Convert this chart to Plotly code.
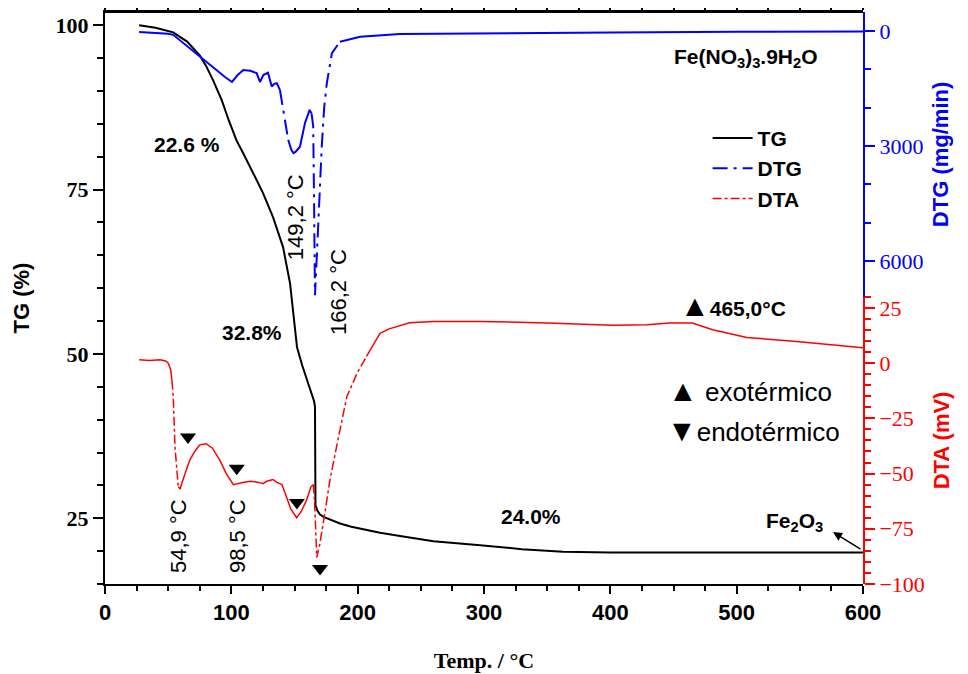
import plotly.graph_objects as go

# ---------------- data ----------------
T_tg = [27, 40, 54, 65, 75, 80, 85.6, 92.4, 98, 104, 110, 117, 125, 133, 141, 146.5, 150.4,
        152, 156, 160, 163, 165.5, 166.2, 166.3, 166.6, 168, 170, 173, 180, 186, 195, 207,
        217.7, 233.5, 260, 297, 330, 362.6, 400, 500, 600]
TG = [100, 99.6, 98.9, 97.5, 95.4, 93.8, 91.6, 88.6, 85.5, 82.5, 80.3, 77.5, 74.5, 70.8, 66.2,
      60.7, 53.6, 51, 48.3, 46, 44, 42.8, 42, 30, 27, 26.2, 25.6, 25.2, 24.6, 24.2, 23.7, 23.2,
      22.8, 22.3, 21.5, 20.9, 20.3, 19.9, 19.8, 19.8, 19.8]

T_dtg = [27, 40, 50, 54, 57, 62, 68, 75, 82, 88.5, 95, 100.5, 105, 109.5, 115, 120, 122.7, 125.3,
         129, 132, 134, 136, 138.5, 141, 143, 145, 147.5, 149.2, 151, 154.3, 158.3, 162, 163.5,
         164.8, 165.5, 166.2, 167.5, 168.8, 170, 171.6, 173.5, 175.6, 179.6, 186, 202, 233.5,
         300, 400, 500, 600]
DTG = [26, 40, 70, 100, 180, 320, 480, 680, 860, 1020, 1200, 1330, 1150, 1020, 1040, 1100, 1330,
       1150, 1090, 1450, 1380, 1360, 1540, 2060, 2450, 2840, 3100, 3190, 3150, 3020, 2400, 2060,
       2150, 2490, 4500, 6900, 6000, 5000, 4000, 3000, 2000, 1360, 580, 280, 150, 80, 60, 40, 20, 10]

T_dta = [27, 35, 43.5, 48, 50, 52, 53, 54, 55.4, 57, 58, 59.5, 61, 64, 67, 71, 75, 80, 85, 91, 96,
         101.6, 105, 109, 115, 122, 125, 128, 131, 133, 136, 140, 143.7, 147, 151.7, 155, 159.6,
         163, 165, 166.2, 167.6, 170, 174, 178, 185, 191.5, 200, 207, 212, 217.7, 225, 233.5, 241,
         260, 297, 350, 402, 429, 447, 465, 481, 508, 547.5, 600]
DTA = [1.5, 1.2, 1.5, 1, 0, -3, -8, -15, -38, -50, -56, -57, -54, -49, -44, -40, -37, -36.5, -38.5,
       -44, -50, -55, -54.5, -54, -53.5, -54, -54.6, -53.5, -53, -52.7, -54, -55, -60.6, -66, -70,
       -67.5, -62, -56, -55, -66.7, -88, -82, -68, -53, -33, -15, -4, 3, 8, 13.5, 15.5, 17, 18.3,
       18.8, 18.9, 18.2, 17.1, 17.4, 18.2, 18.2, 15.1, 11.6, 9.8, 7]

# endothermic marker positions (T, DTA)
T_endo = [65.7, 104.3, 151.9, 170.2]
DTA_endo = [-33.5, -47.6, -63.1, -93]

# steep (dashed-looking) parts of the derivative curves
DTG_steep = [(138.5, 145), (163.5, 186)]
DTA_steep = [(53, 58), (165, 207)]


def split(T, V, ranges):
    solid, dashed = [], []
    for t, v in zip(T, V):
        inside = any(lo < t < hi for lo, hi in ranges)
        closed = any(lo <= t <= hi for lo, hi in ranges)
        solid.append(None if inside else v)
        dashed.append(v if closed else None)
    return solid, dashed


dtg_solid, dtg_dash = split(T_dtg, DTG, DTG_steep)
dta_solid, dta_dash = split(T_dta, DTA, DTA_steep)

SANS = "Liberation Sans, Arial, sans-serif"
SERIF = "Liberation Serif, Times New Roman, serif"

fig = go.Figure()
fig.add_trace(go.Scatter(x=T_tg, y=TG, mode="lines", name="TG", yaxis="y",
                         line=dict(color="black", width=2), legendrank=1))
fig.add_trace(go.Scatter(x=T_dtg, y=dtg_solid, mode="lines", yaxis="y2", showlegend=False,
                         line=dict(color="#0000ff", width=2)))
fig.add_trace(go.Scatter(x=T_dtg, y=dtg_dash, mode="lines", name="DTG", yaxis="y2",
                         line=dict(color="#0000ff", width=2, dash="longdashdot"), legendrank=2))
fig.add_trace(go.Scatter(x=T_dta, y=dta_solid, mode="lines", yaxis="y3", showlegend=False,
                         line=dict(color="#ff0000", width=1.5)))
fig.add_trace(go.Scatter(x=T_dta, y=dta_dash, mode="lines", name="DTA", yaxis="y3",
                         line=dict(color="#ff0000", width=1.5, dash="dashdot"), legendrank=3))
fig.add_trace(go.Scatter(x=T_endo, y=DTA_endo, mode="markers", yaxis="y3", showlegend=False,
                         marker=dict(symbol="triangle-down", size=14, color="black")))

DOM = 0.502

fig.update_layout(
    width=968, height=674,
    margin=dict(l=97, r=113, t=4, b=98),
    plot_bgcolor="rgba(0,0,0,0)", paper_bgcolor="white",
    showlegend=True,
    legend=dict(x=0.795, y=0.815, xanchor="left", yanchor="top",
                font=dict(family=SANS, size=21, color="black", weight="bold"),
                bgcolor="rgba(0,0,0,0)", tracegroupgap=0, itemwidth=40),
    xaxis=dict(range=[0, 600], dtick=100, tick0=0, showline=True, linecolor="black", linewidth=2,
               mirror="ticks", domain=[0, 1], automargin=False,
               ticks="outside", ticklen=8, tickwidth=1.5, tickcolor="black",
               minor=dict(dtick=25, ticks="outside", ticklen=5, tickwidth=1.5, tickcolor="black"),
               showgrid=False, zeroline=False, anchor="y",
               tickfont=dict(family=SANS, size=22, color="black", weight="bold"),
               title=dict(text="Temp. / °C", standoff=28,
                          font=dict(family=SERIF, size=22, color="black", weight="bold"))),
    yaxis=dict(range=[15, 102], dtick=25, tick0=0, showline=True, linecolor="black", linewidth=2,
               ticks="outside", ticklen=10, tickwidth=1.5, tickcolor="black",
               minor=dict(dtick=5, ticks="outside", ticklen=6, tickwidth=1.5, tickcolor="black"),
               showgrid=False, zeroline=False, domain=[0, 1], anchor="x",
               tickfont=dict(family=SERIF, size=22, color="black", weight="bold"),
               title=dict(text="TG (%)", standoff=20,
                          font=dict(family=SANS, size=22, color="black", weight="bold"))),
    yaxis2=dict(range=[6940, -496], dtick=3000, tick0=0, side="right", anchor="x",
                domain=[DOM, 1], showline=True, linecolor="#0000ff", linewidth=2,
                ticks="outside", ticklen=10, tickwidth=1.5, tickcolor="#0000ff",
                minor=dict(dtick=1000, ticks="outside", ticklen=6, tickwidth=1.5,
                           tickcolor="#0000ff"),
                showgrid=False, zeroline=False,
                tickfont=dict(family=SERIF, size=22, color="#0000ff"),
                title=dict(text="DTG (mg/min)", standoff=10,
                           font=dict(family=SANS, size=22, color="#0000ff", weight="bold"))),
    yaxis3=dict(range=[-100, 30], dtick=25, tick0=0, side="right", anchor="x",
                domain=[0, DOM], showline=True, linecolor="#ff0000", linewidth=2,
                ticks="outside", ticklen=10, tickwidth=1.5, tickcolor="#ff0000",
                minor=dict(dtick=5, ticks="outside", ticklen=6, tickwidth=1.5,
                           tickcolor="#ff0000"),
                showgrid=False, zeroline=False,
                tickfont=dict(family=SERIF, size=22, color="#ff0000"),
                title=dict(text="DTA (mV)", standoff=10,
                           font=dict(family=SANS, size=22, color="#ff0000", weight="bold"))),
)

# top frame line of the plot area
fig.add_shape(type="line", xref="paper", yref="paper", x0=0, x1=1, y0=1, y1=1,
              line=dict(color="black", width=2), layer="above")

bold = dict(family=SANS, size=21, color="black", weight="bold")
reg = dict(family=SANS, size=22, color="black")
BIG_TRI = "<span style='font-size:30px'>{}</span>"

ann = [
    dict(x=64.9, y=81.9, text="22.6 %", font=bold),
    dict(x=116.4, y=53.2, text="32.8%", font=bold),
    dict(x=337, y=25.2, text="24.0%", font=bold),
    dict(x=150.4, y=70.8, text="149,2 °C", font=reg, textangle=-90),
    dict(x=184.4, y=59.4, text="166,2 °C", font=reg, textangle=-90),
    dict(x=57.8, y=22.3, text="54,9 °C", font=reg, textangle=-90),
    dict(x=104.5, y=22.3, text="98,5 °C", font=reg, textangle=-90),
    dict(x=507, y=95.0, text="Fe(NO<sub>3</sub>)<sub>3</sub>.9H<sub>2</sub>O", font=bold),
    dict(x=497, y=57.4, text=BIG_TRI.format("▲") + "465,0°C", font=bold),
    dict(x=510.6, y=44.5, text=BIG_TRI.format("▲") + " exotérmico",
         font=dict(family=SANS, size=26, color="black")),
    dict(x=513.3, y=38.4, text=BIG_TRI.format("▼") + "endotérmico",
         font=dict(family=SANS, size=26, color="black")),
    dict(x=546, y=24.5, text="Fe<sub>2</sub>O<sub>3</sub>", font=bold),
]
for a in ann:
    a.update(xref="x", yref="y", showarrow=False)
    fig.add_annotation(**a)

fig.add_annotation(x=576.3, y=22.9, xref="x", yref="y", text="", showarrow=True,
                   ax=29, ay=18, arrowhead=2, arrowsize=1.2, arrowwidth=1.5,
                   arrowcolor="black")

fig.write_html("out.html")
